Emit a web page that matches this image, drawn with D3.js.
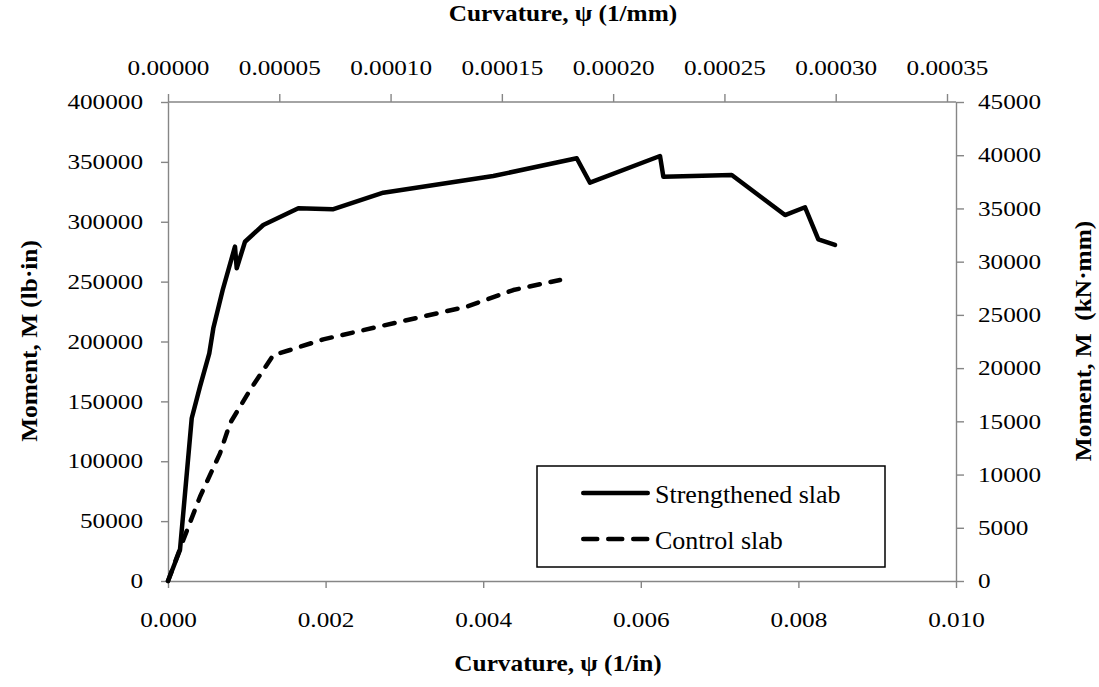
<!DOCTYPE html>
<html><head><meta charset="utf-8">
<script src="https://cdn.jsdelivr.net/npm/d3@7"></script>
<style>
body{margin:0;background:#fff;}
text{font-family:"Liberation Serif","Times New Roman",serif;}
</style></head>
<body><svg id="c" width="1099" height="687"></svg>
<script>
// Strengthened slab: curvature (1/in), moment (lb·in)
const strengthenedX = [0, 0.000152, 0.000301, 0.000406, 0.000524, 0.000575, 0.000694, 0.000850, 0.000872, 0.000977, 0.001209, 0.001654, 0.002090, 0.002732, 0.004128, 0.005187, 0.005355, 0.006244, 0.006286, 0.007154, 0.007830, 0.008084, 0.008253, 0.008464];
const strengthenedY = [0, 25900, 135900, 162300, 190100, 211000, 243000, 279200, 261100, 283300, 297300, 311200, 310400, 324300, 338200, 353000, 332600, 354900, 337600, 339000, 305600, 312100, 285300, 280600];
// Control slab
const controlX = [0, 0.000194, 0.000406, 0.000660, 0.000787, 0.001041, 0.001336, 0.001548, 0.001971, 0.002944, 0.003791, 0.004382, 0.004975];
const controlY = [0, 34200, 70400, 106600, 131700, 159500, 188700, 192900, 201800, 216500, 229100, 243000, 251400];

const bottomTicks = [0, 0.002, 0.004, 0.006, 0.008, 0.010];
const topTicks = [0, 0.00005, 0.00010, 0.00015, 0.00020, 0.00025, 0.00030, 0.00035];
const leftTicks = [0, 50000, 100000, 150000, 200000, 250000, 300000, 350000, 400000];
const rightTicks = [0, 5000, 10000, 15000, 20000, 25000, 30000, 35000, 40000, 45000];
const seriesNames = ["Strengthened slab", "Control slab"];

const L = 168, R = 956, T = 102, B = 581;
const svg = d3.select("#c");
const x = d3.scaleLinear().domain([0, 0.010]).range([L, R]);
const xTop = d3.scaleLinear().domain([0, 0.00035]).range([L, 947]);
const y = d3.scaleLinear().domain([0, 400000]).range([B, T]);
const yR = d3.scaleLinear().domain([0, 45000]).range([B, T]);

function stretch(sel, f){
  sel.each(function(){
    const w = this.getComputedTextLength();
    d3.select(this).attr("textLength", w * f).attr("lengthAdjust", "spacingAndGlyphs");
  });
}

const axisColor = "#868686";
function style(g){
  g.select(".domain").attr("stroke", axisColor).attr("stroke-width", 1.4);
  g.selectAll(".tick line").attr("stroke", axisColor).attr("stroke-width", 1.4);
  g.selectAll(".tick text").attr("font-size", 21).attr("fill", "#000").call(stretch, 1.2);
}
svg.append("g").attr("transform", `translate(0,${B})`)
  .call(d3.axisBottom(x).tickValues(bottomTicks).tickFormat(d3.format(".3f")).tickSize(7).tickPadding(24).tickSizeOuter(0)).call(style);
const gt = svg.append("g").attr("transform", `translate(0,${T})`)
  .call(d3.axisTop(xTop).tickValues(topTicks).tickFormat(d3.format(".5f")).tickSize(8).tickPadding(19).tickSizeOuter(0)).call(style);
gt.select(".domain").remove();
gt.append("line").attr("x1", L).attr("x2", R).attr("y1", 0).attr("y2", 0).attr("stroke", axisColor).attr("stroke-width", 1.4);
svg.append("g").attr("transform", `translate(${L},0)`)
  .call(d3.axisLeft(y).tickValues(leftTicks).tickFormat(d3.format("d")).tickSize(7).tickPadding(18).tickSizeOuter(0)).call(style);
svg.append("g").attr("transform", `translate(${R},0)`)
  .call(d3.axisRight(yR).tickValues(rightTicks).tickFormat(d3.format("d")).tickSize(8).tickPadding(14).tickSizeOuter(0)).call(style);

const line = d3.line().x(d => x(d[0])).y(d => y(d[1]));
const sData = strengthenedX.map((v, i) => [v, strengthenedY[i]]);
const cData = controlX.map((v, i) => [v, controlY[i]]);
svg.append("path").datum(cData).attr("d", line).attr("fill", "none").attr("stroke", "#000")
  .attr("stroke-width", 4.5).attr("stroke-dasharray", "10.5,11").attr("stroke-linecap", "round").attr("stroke-linejoin", "round");
svg.append("path").datum(sData).attr("d", line).attr("fill", "none").attr("stroke", "#000")
  .attr("stroke-width", 4.5).attr("stroke-linejoin", "round").attr("stroke-linecap", "round");

// Titles
const titles = svg.append("g").attr("font-size", 23).attr("font-weight", "bold");
titles.append("text").attr("x", 563).attr("y", 21).attr("text-anchor", "middle").text("Curvature, ψ (1/mm)");
titles.append("text").attr("x", 558).attr("y", 671).attr("text-anchor", "middle").text("Curvature, ψ (1/in)");
titles.append("text").attr("transform", "translate(37,341) rotate(-90)").attr("text-anchor", "middle").text("Moment, M (lb·in)");
titles.append("text").attr("transform", "translate(1091,341) rotate(-90)").attr("text-anchor", "middle").style("white-space", "pre").text("Moment, M  (kN·mm)");
titles.selectAll("text").call(stretch, 1.1);

// Legend
const lg = svg.append("g");
lg.append("rect").attr("x", 537).attr("y", 466).attr("width", 348).attr("height", 101).attr("fill", "#fff").attr("stroke", "#000").attr("stroke-width", 1.5);
const ly = [493, 539];
seriesNames.forEach((n, i) => {
  lg.append("line").attr("x1", 583.25).attr("x2", 647.75).attr("y1", ly[i]).attr("y2", ly[i]).attr("stroke", "#000").attr("stroke-width", 4.5)
    .attr("stroke-linecap", "round").attr("stroke-dasharray", i === 1 ? "14,11" : null);
  lg.append("text").attr("x", 655).attr("y", ly[i] + 10).attr("font-size", 26).text(n);
});
</script></body></html>
